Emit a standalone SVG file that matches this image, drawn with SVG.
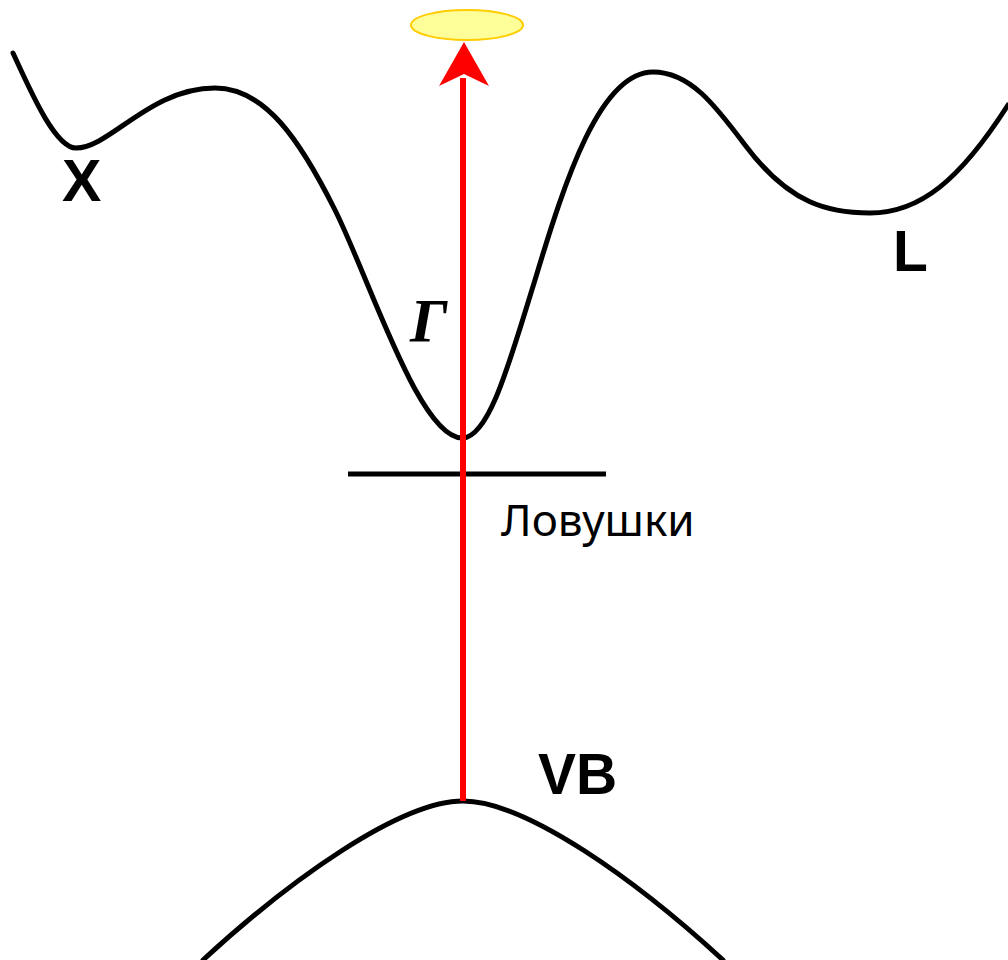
<svg xmlns="http://www.w3.org/2000/svg" width="1008" height="960" viewBox="0 0 1008 960">
<style>
.band{fill:none;stroke:#000;stroke-width:5;stroke-linecap:round}
.lbl{font-family:"Liberation Sans",Arial,sans-serif;font-weight:bold;fill:#000}
</style>
<rect width="1008" height="960" fill="#fff"/>
<g id="conduction-band">
<path class="band" d="M13,53 C30,90 55,148 76,148 C110,148 150,88 215,88 C265,88 300,140 335,210 C370,280 420,440 463,438 C490,436 510,360 535,280 C565,180 600,72 653,72 C690,72 715,105 745,145 C790,205 830,213 870,213 C920,213 960,180 1008,105"/>
</g>
<g id="valence-band">
<path class="band" d="M203,960 C290,880 400,801 463,801 C526,801 636,880 723,960"/>
</g>
<g id="traps">
<line x1="348" y1="474" x2="606" y2="474" stroke="#000" stroke-width="5"/>
</g>
<g id="connectors">
<line x1="463" y1="801" x2="463" y2="78" stroke="#ff0000" stroke-width="6"/>
<polygon points="464,42 489,86 464,74 439,86" fill="#ff0000"/>
</g>
<g id="emitted">
<ellipse cx="467" cy="25" rx="56" ry="15" fill="#ffff99" stroke="#ffcc00" stroke-width="2"/>
</g>
<g id="labels">
<text class="lbl" x="62" y="201" font-size="59">X</text>
<text class="lbl" x="893" y="271" font-size="57">L</text>
<text class="lbl" x="538" y="794" font-size="57">VB</text>
<text x="410" y="341" font-family="Liberation Serif,'Times New Roman',serif" font-style="italic" font-weight="bold" font-size="62">Γ</text>
<text x="501" y="536" font-family="'Noto Sans','Open Sans',sans-serif" font-size="44">Ловушки</text>
</g>
</svg>
